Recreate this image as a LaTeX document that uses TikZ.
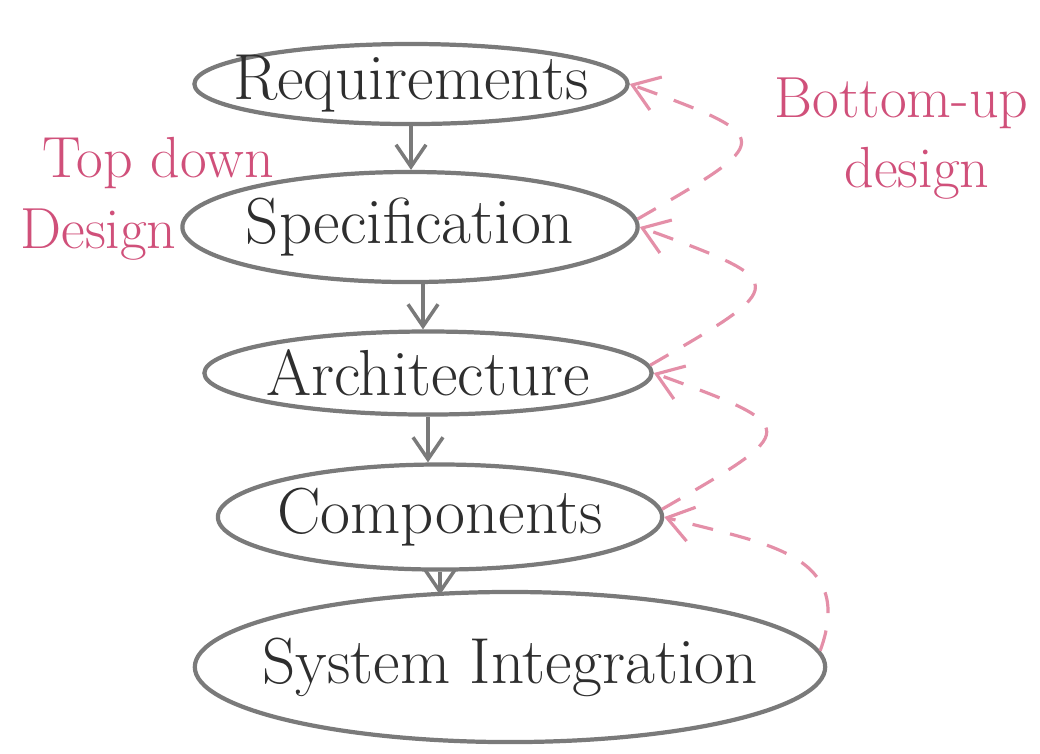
\documentclass[tikz,border=0pt]{standalone}
\usepackage{tikz}
\usetikzlibrary{arrows.meta,shapes.geometric,calc}
\usepackage{xcolor}
\definecolor{pencil}{HTML}{7A7A7A}
\definecolor{ink}{HTML}{2E2E2E}
\definecolor{redpen}{HTML}{D0507A}
\definecolor{redlight}{HTML}{E48FA8}

\begin{document}
\begin{tikzpicture}[x=0.01cm, y=-0.01cm,
    phase/.style={draw=pencil, line width=1.2pt, ellipse, inner sep=0pt,
      label={[text=ink, font=\fontsize{18.5}{22}\selectfont]center:#1}},
    flow/.style={-{Straight Barb[length=2.2mm, width=3mm]}, pencil, line width=1pt},
    back/.style={-{Straight Barb[length=2.5mm, width=3.5mm]}, redlight, line width=0.9pt, dash pattern=on 6pt off 5pt},
    note/.style={text=redpen, align=left, font=\fontsize{16.5}{20}\selectfont}]
  \useasboundingbox (0,0) rectangle (1040,753);

  \node[phase=Requirements,       minimum width=4.33cm, minimum height=0.8cm]  (req)  at (411,84)  {};
  \node[phase=Specification,      minimum width=4.55cm, minimum height=1.1cm]  (spec) at (410,227) {};
  \node[phase=Architecture,       minimum width=4.47cm, minimum height=0.83cm] (arch) at (428,373) {};
  \node[phase=Components,         minimum width=4.44cm, minimum height=1.05cm] (comp) at (440,517) {};
  \node[phase=System Integration, minimum width=6.3cm,  minimum height=1.5cm]  (sys)  at (510,667) {};

  % --- top down: short arrows between the phases ---
  \draw[flow] (req.south)  -- (req.south |- spec.north);
  \draw[flow] ([xshift=0.13cm]spec.south) -- ([xshift=0.13cm]spec.south |- arch.north);
  \draw[flow] (arch.south) -- (arch.south |- comp.north);
  \draw[flow] (comp.south) -- ([yshift=-0.05cm]comp.south |- sys.north);

  % --- bottom up: dashed loops on the right ---
  \draw[back] (spec.2) to[out=30, in=-20, looseness=3] (req.east);
  \draw[back] (arch.2) to[out=30, in=-20, looseness=3] (spec.east);
  \draw[back] (comp.2) to[out=30, in=-20, looseness=3] (arch.east);
  \draw[back] (sys.3) to[out=70, in=-15, looseness=1.3] (comp.east);

  \node[note, anchor=north west] (topdown)  at (8,125) {\hspace*{0.22cm}Top down\\Design};
  \node[note, anchor=north west] (bottomup) at (762,65) {Bottom-up\\\hspace*{0.7cm}design};
\end{tikzpicture}
\end{document}
